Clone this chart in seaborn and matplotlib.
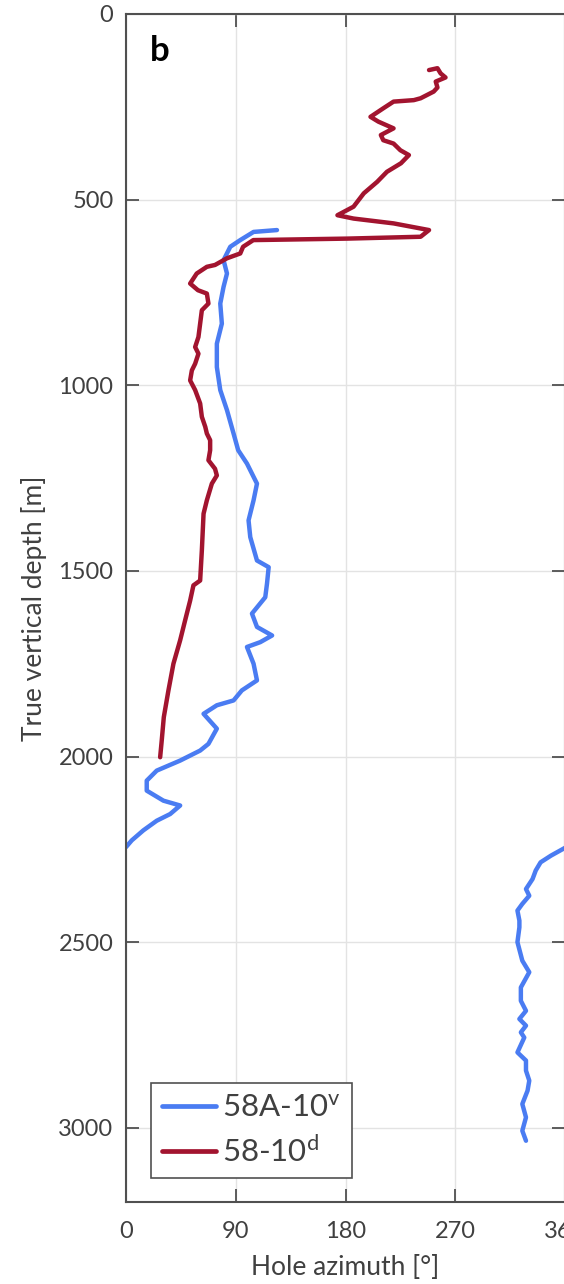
import numpy as np
import pandas as pd
import matplotlib
matplotlib.use("Agg")
import matplotlib.pyplot as plt
import seaborn as sns

# Well 58A-10 (vertical hole): azimuth [deg] vs true vertical depth [m]
# upper run, until the azimuth wraps past north
v_depth_upper = [582, 587, 609, 627, 663, 699, 735, 780, 834, 888, 951, 1013,
                 1067, 1130, 1175, 1211, 1265, 1310, 1364, 1409, 1472, 1490,
                 1535, 1571, 1615, 1651, 1674, 1692, 1705, 1750, 1795, 1822,
                 1849, 1862, 1885, 1925, 1966, 1984, 2011, 2038, 2065, 2092,
                 2119, 2132, 2155, 2173, 2199, 2226, 2244]
v_az_upper = [123.8, 104.6, 93.7, 85.5, 80.0, 82.8, 80.0, 77.3, 78.6, 74.5,
              74.5, 77.3, 82.8, 88.2, 92.0, 99.2, 107.4, 104.6, 100.5, 101.9,
              107.4, 117.0, 115.6, 114.2, 103.3, 107.4, 119.8, 110.1, 99.2,
              104.6, 107.4, 95.0, 88.2, 74.5, 63.6, 74.5, 67.6, 60.8, 44.4,
              25.2, 17.0, 17.0, 30.7, 44.4, 36.2, 25.2, 14.2, 4.7, 0.0]
# lower run, after the wrap to 360
v_depth_lower = [2246, 2267, 2285, 2307, 2330, 2357, 2375, 2397, 2415, 2442,
                 2460, 2500, 2550, 2581, 2622, 2658, 2685, 2707, 2725, 2743,
                 2757, 2797, 2819, 2846, 2873, 2900, 2936, 2972, 3008, 3035]
v_az_lower = [360.0, 348.5, 340.0, 336.0, 333.4, 328.0, 330.7, 325.0, 321.0,
              322.6, 322.6, 321.0, 325.0, 330.7, 323.8, 323.8, 328.0, 322.6,
              328.0, 323.8, 326.6, 321.0, 328.0, 328.0, 330.7, 329.3, 325.0,
              328.0, 325.0, 328.0]

# Well 58-10 (deviated hole)
d_depth = [151, 146, 160, 171, 182, 198, 209, 227, 232, 236, 254, 277, 290,
           308, 326, 340, 349, 367, 380, 402, 425, 452, 483, 519, 542, 551,
           564, 582, 600, 605, 609, 627, 645, 658, 676, 681, 699, 726, 744,
           753, 780, 798, 834, 870, 897, 915, 942, 960, 987, 1013, 1049, 1085,
           1112, 1130, 1148, 1175, 1202, 1225, 1243, 1265, 1310, 1346, 1445,
           1526, 1539, 1580, 1633, 1687, 1750, 1822, 1894, 1957, 2002]
d_az = [248.5, 255.4, 258.0, 262.0, 254.0, 255.4, 252.3, 241.6, 236.0, 219.4,
        211.0, 200.5, 207.0, 219.4, 209.0, 211.0, 219.4, 225.0, 232.0, 225.5,
        214.0, 206.0, 195.0, 186.6, 173.4, 186.6, 219.4, 248.5, 241.6, 181.6,
        104.4, 96.0, 93.7, 82.8, 73.0, 66.3, 58.0, 52.6, 59.0, 66.3, 67.6,
        62.2, 60.8, 59.4, 56.7, 59.4, 56.7, 54.0, 52.6, 56.7, 60.8, 62.2,
        65.0, 66.3, 69.0, 69.0, 67.6, 73.0, 74.5, 70.4, 66.3, 63.6, 62.2,
        60.8, 55.3, 52.6, 48.5, 44.4, 38.9, 34.8, 31.0, 29.3, 28.0]

well_names = ["58A-10$^{\\mathregular{v}}$", "58-10$^{\\mathregular{d}}$"]
well_colors = ["#4a7cf2", "#a2142f"]

x_ticks = [0, 90, 180, 270, 360]
y_ticks = [0, 500, 1000, 1500, 2000, 2500, 3000]

frames = [
    pd.DataFrame({"az": v_az_upper, "depth": v_depth_upper,
                  "well": well_names[0], "run": "v1"}),
    pd.DataFrame({"az": v_az_lower, "depth": v_depth_lower,
                  "well": well_names[0], "run": "v2"}),
    pd.DataFrame({"az": d_az, "depth": d_depth,
                  "well": well_names[1], "run": "d1"}),
]
df = pd.concat(frames, ignore_index=True)

sns.set_theme(style="white")
plt.rcParams["font.family"] = ["Lato", "DejaVu Sans"]
plt.rcParams["mathtext.fontset"] = "custom"
plt.rcParams["mathtext.rm"] = "Lato"
plt.rcParams["mathtext.it"] = "Lato:italic"
plt.rcParams["mathtext.bf"] = "Lato:bold"

text_col = "#404040"
spine_col = "#505050"

fig = plt.figure(figsize=(5.64, 12.84), dpi=100)
W, H = 564, 1284
ax = fig.add_axes([126 / W, (H - 1202) / H, 439 / W, 1188 / H])

sns.lineplot(data=df, x="az", y="depth", hue="well", units="run",
             estimator=None, sort=False, palette=well_colors,
             hue_order=well_names, linewidth=3.2, ax=ax)

ax.set_xlim(0, 360)
ax.set_ylim(3200, 0)
ax.set_xticks(x_ticks)
ax.set_yticks(y_ticks)
ax.set_xticklabels([str(t) for t in x_ticks])
ax.set_yticklabels([str(t) for t in y_ticks])

ax.grid(True, color="#e3e3e3", linewidth=1.0)
ax.set_axisbelow(True)
for s in ax.spines.values():
    s.set_color(spine_col)
    s.set_linewidth(1.5)
    s.set_visible(True)

ax.tick_params(axis="both", which="major", direction="in", length=9.5,
               width=1.3, color=spine_col, labelcolor=text_col,
               labelsize=17, top=True, right=True, bottom=True, left=True)
ax.tick_params(axis="x", pad=14)
ax.tick_params(axis="y", pad=9)

ax.set_xlabel("Hole azimuth [°]", fontsize=19, color=text_col, labelpad=9)
ax.set_ylabel("True vertical depth [m]", fontsize=19, color=text_col)
ax.yaxis.set_label_coords(-0.180, 0.5)

ax.text(0.055, 0.982, "b", transform=ax.transAxes, fontsize=25,
        fontweight="bold", color="black", ha="left", va="top")

leg = ax.legend(loc="lower left", bbox_to_anchor=(0.056, 0.020),
                borderaxespad=0, fontsize=22.5, frameon=True, fancybox=False,
                handlelength=1.75, handletextpad=0.2, borderpad=0.35,
                labelspacing=0.45, title=None)
leg.get_frame().set_edgecolor(spine_col)
leg.get_frame().set_linewidth(1.2)
leg.get_frame().set_facecolor("white")
leg.get_frame().set_alpha(1.0)
for t in leg.get_texts():
    t.set_color(text_col)
for ln in leg.get_lines():
    ln.set_linewidth(3.4)

fig.savefig("out.png", dpi=100)
